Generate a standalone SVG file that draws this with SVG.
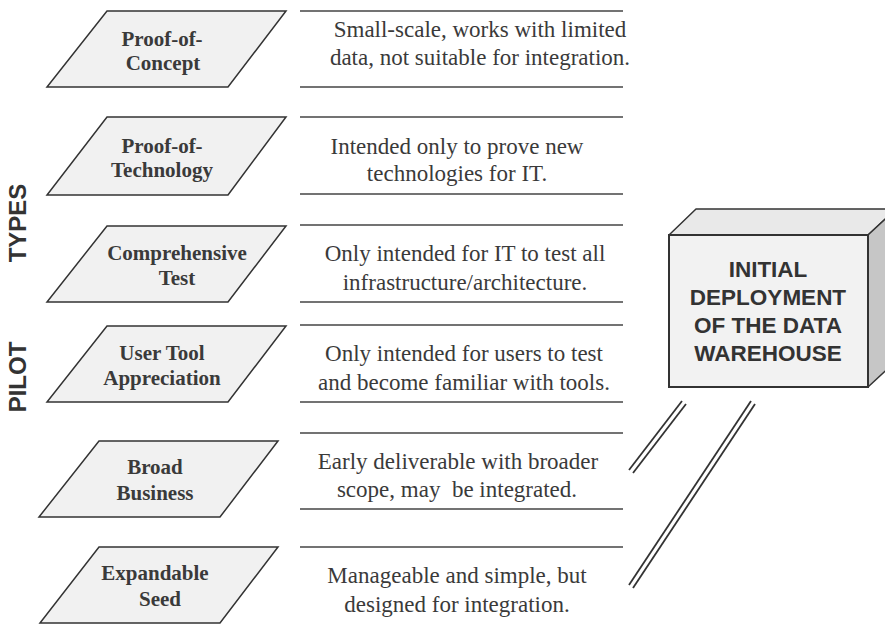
<svg xmlns="http://www.w3.org/2000/svg" width="885" height="624" viewBox="0 0 885 624">
<style>
.para{fill:#f1f1f1;stroke:#333;stroke-width:1.5;stroke-linejoin:miter}
.lbl{font-family:"Liberation Serif","Times New Roman",serif;font-weight:bold;font-size:21px;fill:#3a3a3a;text-anchor:middle}
.desc{font-family:"Liberation Serif","Times New Roman",serif;font-size:23px;fill:#3a3a3a;text-anchor:middle}
.rule{stroke:#444;stroke-width:1.6}
.side{font-family:"Liberation Sans",Arial,sans-serif;font-weight:bold;font-size:24px;fill:#333;text-anchor:middle}
.box{font-family:"Liberation Sans",Arial,sans-serif;font-weight:bold;font-size:22.5px;fill:#333;text-anchor:middle}
.slash{stroke:#333;stroke-width:1.8;fill:none}
</style>
<rect width="885" height="624" fill="#fff"/>
<g id="side-labels">
<text class="side" transform="translate(26,223) rotate(-90)">TYPES</text>
<text class="side" transform="translate(26,377) rotate(-90)">PILOT</text>
</g>
<g id="rules">
<line class="rule" x1="300" y1="11" x2="623" y2="11"/>
<line class="rule" x1="300" y1="87" x2="623" y2="87"/>
<line class="rule" x1="300" y1="117" x2="623" y2="117"/>
<line class="rule" x1="300" y1="194" x2="623" y2="194"/>
<line class="rule" x1="300" y1="225" x2="623" y2="225"/>
<line class="rule" x1="300" y1="302" x2="623" y2="302"/>
<line class="rule" x1="300" y1="325" x2="623" y2="325"/>
<line class="rule" x1="300" y1="402" x2="623" y2="402"/>
<line class="rule" x1="300" y1="433" x2="623" y2="433"/>
<line class="rule" x1="300" y1="509" x2="623" y2="509"/>
<line class="rule" x1="300" y1="547" x2="623" y2="547"/>
</g>
<g id="n1">
<polygon class="para" points="107,11 286,11 228,87 47,87"/>
<text class="lbl" x="162" y="46">Proof-of-</text>
<text class="lbl" x="163" y="70">Concept</text>
<text class="desc" x="480" y="37">Small-scale, works with limited</text>
<text class="desc" x="480" y="65">data, not suitable for integration.</text>
</g>
<g id="n2">
<polygon class="para" points="107,117 286,117 228,195 47,195"/>
<text class="lbl" x="162" y="153">Proof-of-</text>
<text class="lbl" x="162" y="177">Technology</text>
<text class="desc" x="457" y="154">Intended only to prove new</text>
<text class="desc" x="457" y="181">technologies for IT.</text>
</g>
<g id="n3">
<polygon class="para" points="107,226 286,226 228,302 47,302"/>
<text class="lbl" x="177" y="260">Comprehensive</text>
<text class="lbl" x="177" y="285">Test</text>
<text class="desc" x="465" y="261">Only intended for IT to test all</text>
<text class="desc" x="465" y="290">infrastructure/architecture.</text>
</g>
<g id="n4">
<polygon class="para" points="107,326 286,326 228,402 47,402"/>
<text class="lbl" x="162" y="360">User Tool</text>
<text class="lbl" x="162" y="385">Appreciation</text>
<text class="desc" x="464" y="361">Only intended for users to test</text>
<text class="desc" x="464" y="390">and become familiar with tools.</text>
</g>
<g id="n5">
<polygon class="para" points="99,441 278,441 220,517 39,517"/>
<text class="lbl" x="155" y="474">Broad</text>
<text class="lbl" x="155" y="500">Business</text>
<text class="desc" x="458" y="469">Early deliverable with broader</text>
<text class="desc" x="457" y="497" xml:space="preserve">scope, may  be integrated.</text>
</g>
<g id="n6">
<polygon class="para" points="99,547 278,547 220,623 40,623"/>
<text class="lbl" x="155" y="580">Expandable</text>
<text class="lbl" x="160" y="606">Seed</text>
<text class="desc" x="457" y="583">Manageable and simple, but</text>
<text class="desc" x="457" y="612">designed for integration.</text>
</g>
<g id="warehouse">
<polygon points="669,235 696,209 896,209 868,235" fill="#e9e9e9" stroke="#333" stroke-width="1.5" stroke-linejoin="round"/>
<polygon points="868,235 896,209 896,361 868,387" fill="#c6c6c6" stroke="#333" stroke-width="1.5" stroke-linejoin="round"/>
<rect x="669" y="235" width="199" height="152" fill="#f2f2f2" stroke="#333" stroke-width="2"/>
<text class="box" x="768" y="277">INITIAL</text>
<text class="box" x="768" y="305">DEPLOYMENT</text>
<text class="box" x="768" y="333">OF THE DATA</text>
<text class="box" x="768" y="361">WAREHOUSE</text>
</g>
<g id="connectors">
<line class="slash" x1="629" y1="470" x2="682" y2="401"/>
<line class="slash" x1="633" y1="473" x2="686" y2="404"/>
<line class="slash" x1="629" y1="585" x2="751" y2="401"/>
<line class="slash" x1="633" y1="588" x2="755" y2="404"/>
</g>
</svg>
